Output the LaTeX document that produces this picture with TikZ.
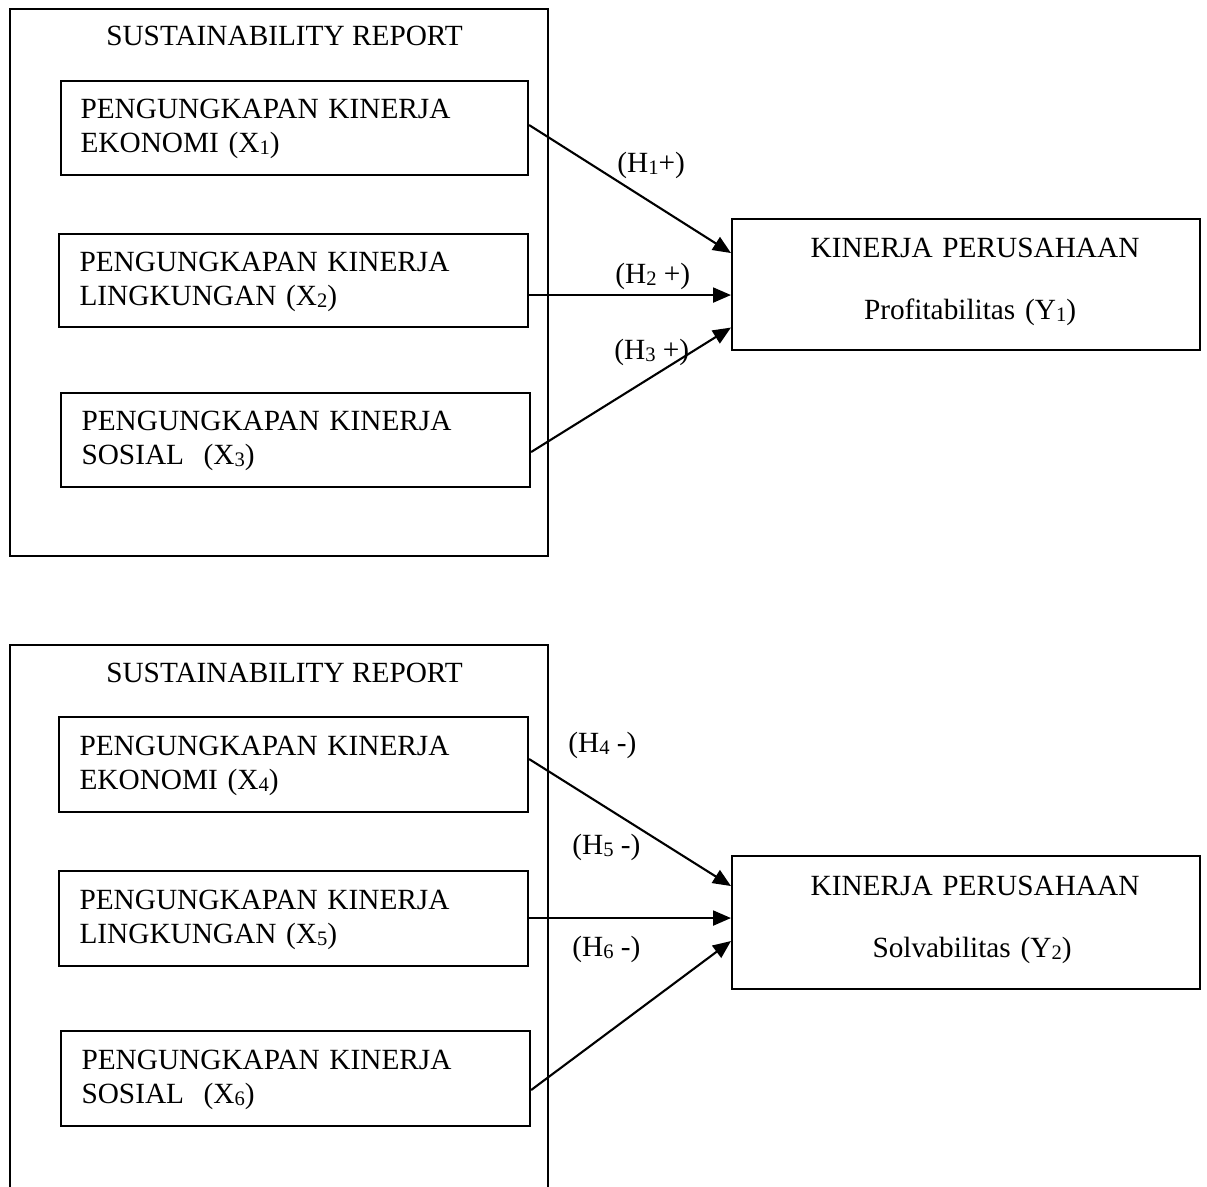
\documentclass[tikz,border=0pt]{standalone}
\usepackage{fontspec}
\setmainfont{Liberation Serif}
\usetikzlibrary{arrows.meta}
\newcommand\sbx[1]{\raisebox{-1pt}{\fontsize{10.3pt}{11pt}\selectfont #1}}
\begin{document}
\begin{tikzpicture}[x=0.5pt,y=-0.5pt,
  every node/.style={font=\fontsize{14.65pt}{17pt}\selectfont},
  frame/.style={draw, line width=1.05pt, anchor=north west, inner sep=0pt, minimum width=269pt},
  xbox/.style={draw, line width=1.05pt, anchor=north west, inner xsep=9.5pt, inner ysep=0pt,
     text width=214pt, align=left, text height=10pt, text depth=19.5pt},
  ybox/.style={draw, line width=1.05pt, anchor=north west, inner sep=0pt, minimum width=234pt,
     text width=234pt, align=center, text height=10pt, text depth=37.5pt,
     font=\fontsize{14.65pt}{31pt}\selectfont},
  lbl/.style={anchor=base west, inner sep=0pt},
  ttl/.style={anchor=base, inner sep=0pt},
  arr/.style={line width=1.05pt, -{Triangle[length=9pt,width=7.5pt]}}
]
\useasboundingbox (0,0) rectangle (1207,1187);
\clip (0,0) rectangle (1207,1187);

% ---------- upper diagram ----------
\node[frame, minimum height=273.5pt] (o1) at (9,8) {};
\node[ttl] (t1) at (284.5,46) {SUSTAINABILITY REPORT};
\node[xbox, minimum width=233.5pt, minimum height=47pt] (b1) at (60,80)
  {PENGUNGKAPAN KINERJA\\EKONOMI (X\sbx{1})};
\node[xbox, minimum width=234.5pt, minimum height=46.5pt] (b2) at (58,233)
  {PENGUNGKAPAN KINERJA\\LINGKUNGAN (X\sbx{2})};
\node[xbox, minimum width=234.5pt, minimum height=47pt] (b3) at (60,392)
  {PENGUNGKAPAN KINERJA\\SOSIAL~~(X\sbx{3})};
\node[ybox, minimum height=65.5pt] (y1) at (731,218)
  {\hspace*{9pt}KINERJA PERUSAHAAN\\\hspace*{4pt}Profitabilitas (Y\sbx{1})};

\draw[arr] ([yshift=1.5pt]b1.east) -- ([yshift=15.75pt]y1.west);
\draw[arr] ([yshift=-7.25pt]b2.east) -- ([yshift=-5.25pt]y1.west);
\draw[arr] ([yshift=-6pt]b3.east) -- ([yshift=-21.5pt]y1.west);

\node[lbl] (h1) at (617,173) {(H\sbx{1}+)};
\node[lbl] (h2) at (615,284) {(H\sbx{2} +)};
\node[lbl] (h3) at (614,360) {(H\sbx{3} +)};

% ---------- lower diagram ----------
\node[frame, minimum height=310pt] (o2) at (9,644) {};
\node[ttl] (t2) at (284.5,683) {SUSTAINABILITY REPORT};
\node[xbox, minimum width=234.5pt, minimum height=47.5pt] (b4) at (58,716)
  {PENGUNGKAPAN KINERJA\\EKONOMI (X\sbx{4})};
\node[xbox, minimum width=234.5pt, minimum height=47.5pt] (b5) at (58,870)
  {PENGUNGKAPAN KINERJA\\LINGKUNGAN (X\sbx{5})};
\node[xbox, minimum width=234.5pt, minimum height=47.5pt] (b6) at (60,1030)
  {PENGUNGKAPAN KINERJA\\SOSIAL~~(X\sbx{6})};
\node[ybox, minimum height=66.5pt] (y2) at (731,855)
  {\hspace*{9pt}KINERJA PERUSAHAAN\\\hspace*{6pt}Solvabilitas (Y\sbx{2})};

\draw[arr] ([yshift=2.75pt]b4.east) -- ([yshift=18.25pt]y2.west);
\draw[arr] ([yshift=0.25pt]b5.east) -- ([yshift=2.25pt]y2.west);
\draw[arr] ([yshift=-5.75pt]b6.east) -- ([yshift=-9.25pt]y2.west);

\node[lbl] (h4) at (568,753) {(H\sbx{4} -)};
\node[lbl] (h5) at (572,855) {(H\sbx{5} -)};
\node[lbl] (h6) at (572,957) {(H\sbx{6} -)};
\end{tikzpicture}
\end{document}
